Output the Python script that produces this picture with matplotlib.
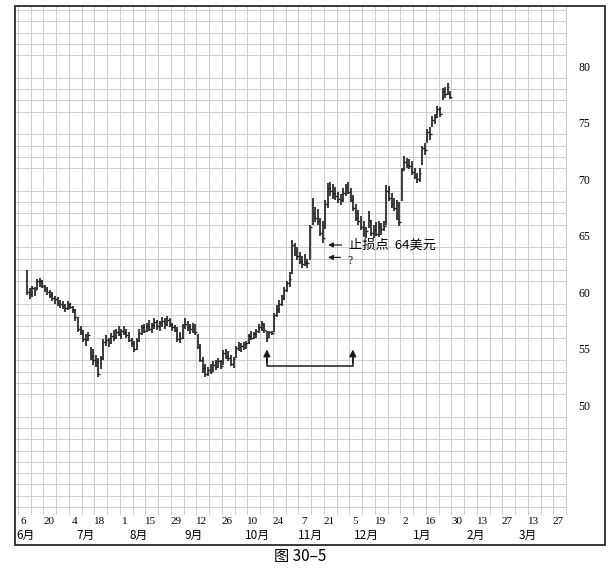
import matplotlib
matplotlib.use("Agg")
import matplotlib.pyplot as plt
from matplotlib.patches import Rectangle
from matplotlib.ticker import FixedLocator

# daily bars (trading day index 0..166), grouped five to a week
highs = [
    62.0, 60.4, 60.6, 60.5, 61.2,
    61.3, 61.1, 60.7, 60.5, 60.2,
    60.0, 59.7, 59.6, 59.3, 59.2,
    59.0, 59.2, 59.1, 58.8, 58.5,
    57.8, 57.0, 56.7, 56.3, 56.5,
    55.2, 55.0, 54.5, 54.2, 54.4,
    55.9, 56.2, 56.0, 56.4, 56.7,
    56.8, 57.0, 56.8, 57.0, 56.8,
    56.5, 56.0, 55.7, 56.0, 56.8,
    57.1, 57.2, 57.3, 57.6, 57.3,
    57.7, 57.6, 57.5, 57.8, 57.7,
    57.9, 57.7, 57.3, 57.1, 56.9,
    56.5, 57.2, 57.7, 57.5, 57.2,
    57.3, 57.2, 56.3, 55.4, 54.3,
    53.7, 53.4, 53.7, 53.9, 54.0,
    54.2, 54.0, 54.9, 55.0, 54.8,
    54.5, 54.3, 55.3, 55.6, 55.5,
    55.6, 55.7, 56.3, 56.6, 56.5,
    56.8, 57.2, 57.5, 57.3, 56.6,
    56.6, 56.6, 58.2, 58.9, 59.3,
    59.8, 60.5, 61.0, 61.8, 64.6,
    64.4, 64.0, 63.6, 63.2, 63.4,
    63.0, 66.0, 68.4, 67.6, 67.4,
    66.6, 66.3, 68.2, 69.7, 69.8,
    69.6, 69.3, 68.9, 68.7, 69.2,
    69.6, 69.8, 69.2, 68.6, 67.8,
    67.3, 66.8, 66.3, 65.8, 67.2,
    66.4, 66.0, 66.2, 66.3, 66.1,
    66.3, 69.5, 69.4, 68.8, 68.4,
    68.2, 68.0, 71.0, 72.1, 71.9,
    71.8, 71.6, 71.0, 70.6, 71.0,
    73.0, 73.2, 74.5, 74.6, 75.6,
    75.8, 76.5, 76.4, 78.1, 78.2,
    78.5, 77.8,
]
lows = [
    59.8, 59.4, 59.6, 59.7, 60.2,
    60.5, 60.4, 60.0, 59.8, 59.5,
    59.2, 59.0, 58.8, 58.6, 58.5,
    58.3, 58.4, 58.5, 58.2, 57.5,
    56.5, 56.2, 55.6, 55.3, 55.7,
    54.0, 53.6, 53.4, 52.5, 53.2,
    54.0, 55.3, 55.2, 55.4, 55.7,
    55.9, 56.1, 55.9, 56.2, 56.0,
    55.6, 55.2, 54.7, 54.9, 55.6,
    56.2, 56.4, 56.5, 56.6, 56.4,
    56.8, 56.7, 56.6, 56.9, 56.8,
    57.0, 56.9, 56.6, 56.5, 55.6,
    55.5, 55.9, 56.8, 56.6, 56.3,
    56.4, 56.2, 55.0, 53.8, 52.9,
    52.5, 52.6, 52.8, 53.0, 53.1,
    53.3, 53.2, 53.6, 54.1, 53.9,
    53.5, 53.3, 54.2, 54.8, 54.7,
    54.9, 55.0, 55.4, 55.8, 55.9,
    56.0, 56.4, 56.6, 56.4, 55.6,
    56.0, 56.2, 56.5, 57.8, 58.2,
    58.8, 59.3, 60.0, 60.5, 61.6,
    63.2, 62.9, 62.5, 62.2, 62.3,
    62.2, 62.9, 66.0, 66.2, 66.0,
    65.0, 64.4, 65.6, 67.5, 68.5,
    68.3, 68.2, 67.9, 67.7, 68.0,
    68.5, 68.7, 68.0, 67.2, 66.3,
    66.0, 65.5, 64.9, 64.8, 65.7,
    65.0, 64.8, 65.0, 64.9, 65.1,
    65.4, 66.0, 68.1, 67.5, 67.2,
    66.4, 65.9, 68.1, 70.8, 71.0,
    70.9, 70.4, 70.0, 69.7, 69.8,
    71.3, 72.2, 73.2, 73.5, 74.6,
    74.9, 75.4, 75.5, 77.0, 77.2,
    77.5, 77.1,
]
closes = [
    60.0, 59.9, 60.4, 60.2, 61.0,
    61.0, 60.6, 60.3, 60.0, 59.8,
    59.5, 59.4, 59.1, 59.0, 58.8,
    58.6, 59.0, 58.7, 58.4, 57.8,
    56.8, 56.5, 55.9, 55.8, 56.2,
    54.4, 54.0, 53.8, 52.8, 54.2,
    55.6, 55.8, 55.5, 56.1, 56.0,
    56.5, 56.3, 56.6, 56.5, 56.2,
    55.8, 55.5, 55.0, 55.8, 56.4,
    56.9, 56.6, 57.0, 56.8, 57.1,
    57.4, 57.0, 57.3, 57.5, 57.2,
    57.6, 57.1, 56.9, 56.7, 55.9,
    56.0, 57.0, 57.2, 56.9, 56.8,
    57.0, 56.5, 55.2, 54.0, 53.3,
    52.8, 53.1, 53.0, 53.6, 53.4,
    53.9, 53.5, 54.6, 54.4, 54.2,
    53.7, 54.1, 55.1, 55.2, 55.3,
    55.4, 55.5, 56.1, 56.0, 56.3,
    56.6, 56.9, 57.2, 56.7, 56.0,
    56.5, 56.4, 58.0, 58.5, 59.0,
    59.5, 60.2, 60.8, 61.2, 64.2,
    63.6, 63.2, 62.8, 62.5, 62.7,
    62.6, 65.8, 67.0, 66.6, 66.3,
    65.3, 64.8, 67.8, 69.2, 69.0,
    68.8, 68.5, 68.3, 68.2, 68.8,
    69.3, 68.9, 68.2, 67.5, 66.6,
    66.3, 65.8, 65.2, 65.4, 66.4,
    65.3, 65.5, 65.2, 65.8, 65.6,
    65.9, 69.0, 68.4, 67.8, 67.5,
    66.6, 66.2, 70.8, 71.5, 71.3,
    71.2, 70.7, 70.3, 70.0, 70.6,
    72.8, 72.6, 74.2, 74.0, 75.3,
    75.5, 76.2, 75.8, 77.8, 77.6,
    78.2, 77.3,
]

# bottom axis: every other Monday, and the months
day_labels = ["6", "20", "4", "18", "1", "15", "29", "12", "26", "10", "24",
              "7", "21", "5", "19", "2", "16", "30", "13", "27", "13", "27"]
month_labels = ["6月", "7月", "8月", "9月", "10月", "11月", "12月", "1月", "2月", "3月"]
month_pos = [-0.4, 23.1, 43.9, 65.5, 90.2, 111, 133, 155, 176, 196.5]
price_ticks = [50, 55, 60, 65, 70, 75, 80]

stop_price = 64.2
stop_text = "止损点  64美元"

W, H = 615, 568
fig = plt.figure(figsize=(W / 100, H / 100), dpi=100)
ax = fig.add_axes([15 / W, 1 - 515 / H, 552 / W, 509 / H])

days = list(range(len(highs)))
bar_col = "#1a1a1a"
ax.vlines(days, lows, highs, color=bar_col, linewidth=1.2, zorder=3)
ax.hlines(closes, [d for d in days], [d + 0.7 for d in days],
          color=bar_col, linewidth=1.0, zorder=3)

ax.set_xlim(-4.7, 211.8)
ax.set_ylim(40.3, 85.35)

# grid: one line per week and per dollar
ax.xaxis.set_minor_locator(FixedLocator([1.45 + 5 * k for k in range(-1, 43)]))
ax.yaxis.set_minor_locator(FixedLocator(list(range(40, 86))))
ax.grid(which="minor", color="#cdcdcd", linewidth=0.7)
ax.set_axisbelow(True)
for s in ax.spines.values():
    s.set_visible(False)

ax.set_xticks([-1.5 + 10 * k for k in range(len(day_labels))], day_labels,
              fontfamily="Liberation Serif", fontsize=8)
ax.tick_params(axis="x", which="both", length=0, pad=1.5)
ax.yaxis.tick_right()
ax.set_yticks(price_ticks, [str(p) for p in price_ticks],
              fontfamily="Liberation Serif", fontsize=8.5)
ax.tick_params(axis="y", which="both", length=0, pad=8)

for lab, pos in zip(month_labels, month_pos):
    ax.text(pos, -0.0395, lab, transform=ax.get_xaxis_transform(),
            ha="center", va="center", fontsize=8.5,
            family=["Noto Sans CJK SC", "DejaVu Sans"])

# annotations
arr = dict(arrowstyle="-|>", color="#1a1a1a", linewidth=0.9, mutation_scale=7)
ax.annotate("", xy=(117, stop_price), xytext=(124.5, stop_price), arrowprops=arr)
ax.text(126.3, stop_price, stop_text, ha="left", va="center", fontsize=9.5,
        family=["Noto Sans CJK SC", "DejaVu Sans"])
ax.annotate("", xy=(117, 63.1), xytext=(124, 63.1), arrowprops=arr)
ax.text(125.5, 62.75, "?", ha="left", va="center", fontsize=8.5,
        family=["Liberation Serif"])

up = dict(arrowstyle="-|>", color="#1a1a1a", linewidth=1.1, mutation_scale=10)
ax.plot([94.1, 94.1, 127.8, 127.8], [54.4, 53.5, 53.5, 54.4],
        color="#1a1a1a", linewidth=1.1)
ax.annotate("", xy=(94.1, 55.2), xytext=(94.1, 53.5), arrowprops=up)
ax.annotate("", xy=(127.8, 55.2), xytext=(127.8, 53.5), arrowprops=up)

# outer frame around chart and labels
fig.patches.append(Rectangle((15 / W, 1 - 545 / H), 590 / W, 539 / H,
                             transform=fig.transFigure, fill=False,
                             edgecolor="#2a2a2a", linewidth=1.3))

fig.text(300 / W, 1 - 556 / H, "图 30–5", ha="center", va="center", fontsize=11,
         family=["Noto Sans CJK SC", "DejaVu Sans"])

fig.savefig("out.png", dpi=100)
